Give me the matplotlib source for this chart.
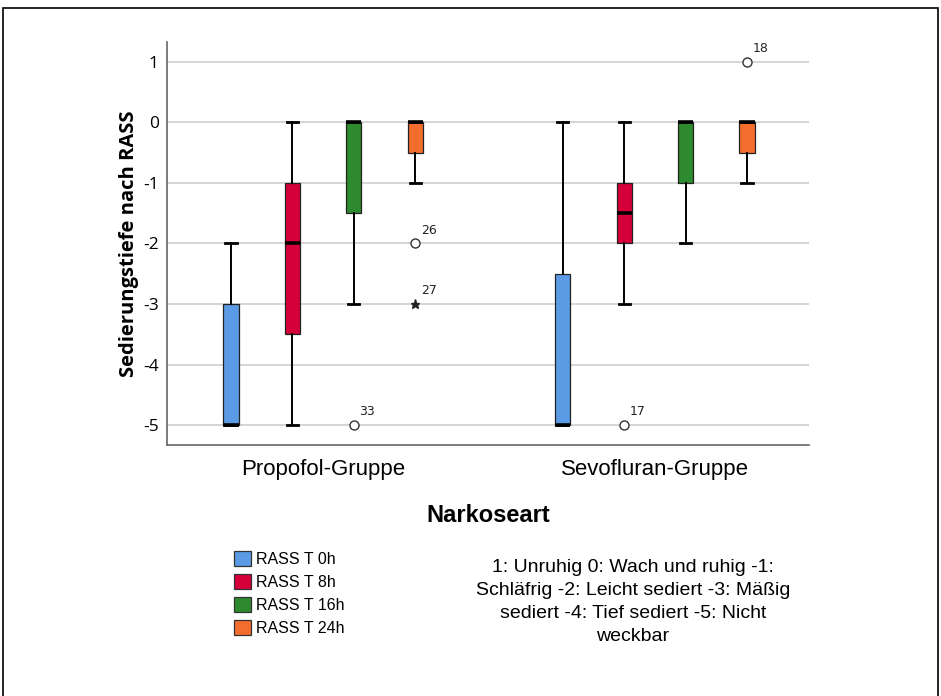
import matplotlib.pyplot as plt
from matplotlib.patches import Patch, Rectangle

# Daten
gruppen = ['Propofol-Gruppe', 'Sevofluran-Gruppe']
zeiten = ['RASS T 0h', 'RASS T 8h', 'RASS T 16h', 'RASS T 24h']
farben = ['#5B9BE6', '#D5003A', '#2E8A2E', '#F36E2E']

# je Gruppe und Zeitpunkt: whislo, q1, med, q3, whishi
whislo = [[-5, -5, -3, -1], [-5, -3, -2, -1]]
q1 = [[-5, -3.5, -1.5, -0.5], [-5, -2, -1, -0.5]]
med = [[-5, -2, 0, 0], [-5, -1.5, 0, 0]]
q3 = [[-3, -1, 0, 0], [-2.5, -1, 0, 0]]
whishi = [[-2, 0, 0, 0], [0, 0, 0, 0]]

# Ausreisser: Gruppe, Zeitpunkt, Wert, Fallnummer, Marker
aus_gruppe = [0, 0, 0, 1, 1]
aus_zeit = [2, 3, 3, 1, 3]
aus_wert = [-5, -2, -3, -5, 1]
aus_nr = ['33', '26', '27', '17', '18']
aus_marker = ['o', 'o', '*', 'o', 'o']

legende_text = ('1: Unruhig 0: Wach und ruhig -1:\nSchläfrig -2: Leicht sediert -3: Mäßig\n'
                'sediert -4: Tief sediert -5: Nicht\nweckbar')

schritt = 0.185
versatz = [-1.5 * schritt, -0.5 * schritt, 0.5 * schritt, 1.5 * schritt]

fig = plt.figure(figsize=(9.41, 6.96), dpi=100)
ax = fig.add_axes([0.1775, 0.3606, 0.6822, 0.5791])

ax.set_axisbelow(True)
ax.yaxis.grid(True, color='#CACACA', lw=1.1)

for g in range(2):
    for t in range(4):
        stats = [dict(whislo=whislo[g][t], q1=q1[g][t], med=med[g][t], q3=q3[g][t],
                      whishi=whishi[g][t], fliers=[])]
        ax.bxp(stats, positions=[g + 1 + versatz[t]], widths=0.046, capwidths=0.034,
               showfliers=False, patch_artist=True, manage_ticks=False,
               boxprops=dict(facecolor=farben[t], edgecolor='#222222', lw=0.9),
               medianprops=dict(color='black', lw=2.6),
               whiskerprops=dict(color='black', lw=1.4),
               capprops=dict(color='black', lw=2.0))

for g, t, w, nr, m in zip(aus_gruppe, aus_zeit, aus_wert, aus_nr, aus_marker):
    x = g + 1 + versatz[t]
    if m == 'o':
        ax.plot(x, w, 'o', mfc='white', mec='#333333', ms=6.5, mew=1.0)
    else:
        ax.plot(x, w, '*', color='#222222', ms=6.5)
    ax.annotate(nr, (x, w), xytext=(4, 7), textcoords='offset points',
                fontsize=9, color='#222222')

ax.set_xlim(0.53, 2.464)
ax.set_ylim(-5.33, 1.33)
ax.set_yticks([1, 0, -1, -2, -3, -4, -5])
ax.set_yticklabels(['1', '0', '-1', '-2', '-3', '-4', '-5'], family='Open Sans', fontsize=12.5)
ax.set_xticks([1, 2])
ax.set_xticklabels(gruppen, family='Liberation Sans', fontsize=16)
ax.tick_params(axis='both', length=0)
ax.tick_params(axis='x', pad=10)
ax.tick_params(axis='y', pad=6)

for s in ['top', 'right']:
    ax.spines[s].set_visible(False)
for s in ['left', 'bottom']:
    ax.spines[s].set_color('#666666')
    ax.spines[s].set_lw(1.2)

ax.set_ylabel('Sedierungstiefe nach RASS', family='Open Sans', fontweight='bold', fontsize=14.5)
ax.yaxis.set_label_coords(-0.06, 0.5)
ax.yaxis.label.set_va('center')
ax.set_xlabel('Narkoseart', family='Liberation Sans', fontweight='bold', fontsize=17)
ax.xaxis.set_label_coords(0.5, -0.176)
ax.xaxis.label.set_va('center')

handles = [Patch(facecolor=c, edgecolor='#333333', lw=0.9) for c in farben]
fig.legend(handles, zeiten, loc='upper left', bbox_to_anchor=(0.2487, 0.2083),
           frameon=False, prop=dict(family='Liberation Sans', size=11.5),
           handlelength=1.05, handleheight=1.05, handletextpad=0.3, labelspacing=0.45,
           borderpad=0, borderaxespad=0)

fig.text(633 / 941, 1 - 602 / 696, legende_text, ha='center', va='center',
         multialignment='center', family='Liberation Sans', fontsize=14, linespacing=1.45)

# Rahmen um das ganze Bild
fig.add_artist(Rectangle((3 / 941, -0.05), 935 / 941, 1.05 - 8 / 696, transform=fig.transFigure,
                         fill=False, edgecolor='black', lw=1.2))

fig.savefig('out.png', dpi=100)
